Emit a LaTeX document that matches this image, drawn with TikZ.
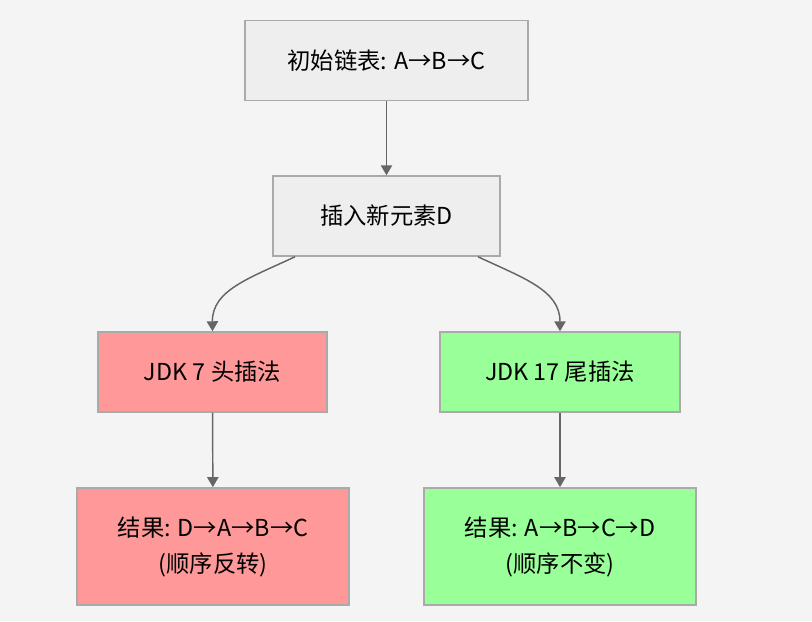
\documentclass[tikz,border=0pt]{standalone}
\usepackage{fontspec}
\setmainfont{Noto Sans CJK SC}
\usepackage{tikz}
\usetikzlibrary{arrows.meta, positioning}
\usepackage{xcolor}
\definecolor{bgcol}{HTML}{F4F4F4}
\definecolor{boxgray}{HTML}{EEEEEE}
\definecolor{boxline}{HTML}{AAAAAA}
\definecolor{boxred}{HTML}{FF9999}
\definecolor{boxgreen}{HTML}{99FF99}
\definecolor{linecol}{HTML}{666666}

\begin{document}
\begin{tikzpicture}
		[   x=0.75pt,y=-0.75pt,
		    lnode/.style={draw=boxline,line width=1.1pt,fill=#1,rectangle,align=center,
		    	font=\fontsize{17.5}{27}\selectfont,minimum height=60pt,inner sep=0pt},
		]
		\tikzset{normal arrow/.style={draw=linecol,line width=1.1pt,-{Triangle[length=7.5pt,width=8.5pt]}}}
		\fill[bgcol] (0,0) rectangle (812,621);
		\useasboundingbox (0,0) rectangle (812,621);
		
		\node[lnode=boxgray,minimum width=212pt] (l-1) at (386.5,60.5) {初始链表: A→B→C};
		\node[lnode=boxgray,minimum width=170pt] (l-2) at (386.5,216) {插入新元素D};
		
		\node[lnode=boxred,minimum width=172pt] (h-1) at (212.5,372) {JDK 7 头插法};
		\node[lnode=boxred,minimum width=204pt,minimum height=88pt] (h-2) at (213,546.5) {结果: D→A→B→C\\(顺序反转)};
		
		\node[lnode=boxgreen,minimum width=180pt] (t-1) at (560,372) {JDK 17 尾插法};
		\node[lnode=boxgreen,minimum width=204pt,minimum height=88pt] (t-2) at (560,546.5) {结果: A→B→C→D\\(顺序不变)};
		
		
		\path[normal arrow] (l-1) -- (l-2);
		\path[normal arrow] (l-2.-156) .. controls (250,278) and (212,290) .. (h-1.north);
		\path[normal arrow] (l-2.-24) .. controls (523,278) and (560,290) .. (t-1.north);
		
		\foreach \x in {h,t}
		{
			\path[normal arrow] (\x-1) -- (\x-2);
		}
\end{tikzpicture}
\end{document}
